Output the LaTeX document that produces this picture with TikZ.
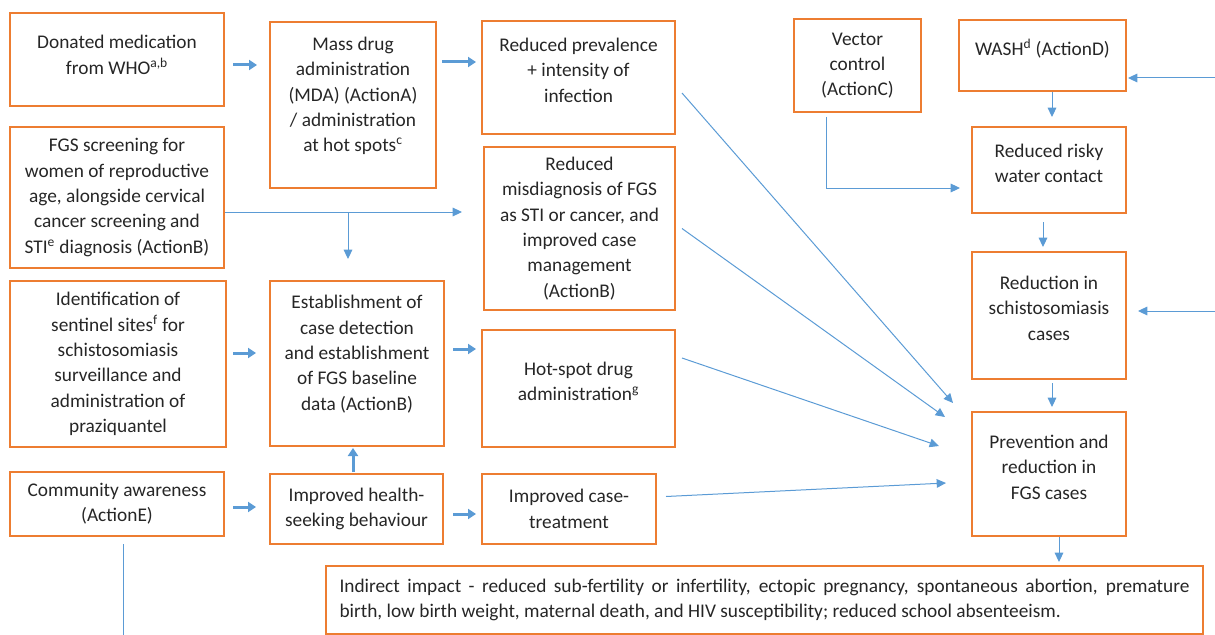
\documentclass[tikz,border=0pt]{standalone}
\usepackage{fontspec}
\setmainfont{Carlito}
\usetikzlibrary{arrows.meta,calc}
\definecolor{boxorange}{RGB}{237,125,49}
\definecolor{arrowblue}{RGB}{91,155,213}
\definecolor{textgrey}{RGB}{38,38,38}
\newcommand{\lift}[1]{\rule[-#1]{0pt}{0pt}}

\begin{document}
\begin{tikzpicture}[x=0.75pt,y=0.75pt,yscale=-1,xscale=1,
  box/.style 2 args={draw=boxorange,line width=1.5pt,outer sep=0pt,inner sep=2pt,anchor=north west,align=center,text=textgrey,font=\fontsize{14.5}{19}\selectfont,minimum width=#1*0.75pt,minimum height=#2*0.75pt},
  link/.style={draw=arrowblue,line width=0.75pt,-{Triangle[length=7pt,width=6.5pt]}},
  fat/.style={draw=arrowblue,line width=2.25pt,-{Triangle[length=6pt,width=7.5pt]}}]
\useasboundingbox (0,0) rectangle (1215,635);

% Text Node
\node[box={214}{93}] (don) at (10,13) {Donated medication\\from WHO\textsuperscript{a,b}\lift{7pt}};
% Text Node
\node[box={166}{166}] (mda) at (270,22) {Mass drug\\administration\\(MDA) (ActionA)\\/ administration\\at hot spots\textsuperscript{c}\lift{16pt}};
% Text Node
\node[box={193}{113}] (prev) at (482,21) {Reduced prevalence\\+ intensity of\\infection\lift{11pt}};
% Text Node
\node[box={127}{93}] (vec) at (794,19) {Vector\\control\\(ActionC)};
% Text Node
\node[box={167}{71}] (wash) at (959,20) {WASH\textsuperscript{d} (ActionD)\lift{13pt}};
% Text Node
\node[box={154}{86}] (risky) at (972,127) {Reduced risky\\water contact\lift{10.5pt}};
% Text Node
\node[box={154}{127}] (redu) at (972,252) {Reduction in\\schistosomiasis\\cases\lift{11pt}};
% Text Node
\node[box={154}{124}] (prevn) at (972,412) {Prevention and\\reduction in\\FGS cases\lift{10.5pt}};
% Text Node
\node[box={214}{141}] (fgs) at (10,127) {FGS screening for\\women of reproductive\\age, alongside cervical\\cancer screening and\\STI\textsuperscript{e} diagnosis (ActionB)};
% Text Node
\node[box={191}{163}] (misd) at (484,147) {Reduced\\misdiagnosis of FGS\\as STI or cancer, and\\improved case\\management\\(ActionB)};
% Text Node
\node[box={216}{166}] (ident) at (10,281) {Identification of\\sentinel sites\textsuperscript{f} for\\schistosomiasis\\surveillance and\\administration of\\praziquantel};
% Text Node
\node[box={174}{165}] (estab) at (270,281) {Establishment of\\case detection\\and establishment\\of FGS baseline\\data (ActionB)\lift{16pt}};
% Text Node
\node[box={193}{117}] (hot) at (482,330) {Hot-spot drug\\administration\textsuperscript{g}\lift{11pt}};
% Text Node
\node[box={214}{64}] (comm) at (10,472) {Community awareness\\(ActionE)};
% Text Node
\node[box={173}{70}] (health) at (270,474) {Improved health-\\seeking behaviour};
% Text Node
\node[box={174}{70}] (case) at (482,474) {Improved case-\\treatment};
% Text Node
\node[box={877}{68},align=justify,text width=637.5pt] (ind) at (326,566) {Indirect impact - reduced sub-fertility or infertility, ectopic pregnancy, spontaneous abortion, premature\linebreak birth, low birth weight, maternal death, and HIV susceptibility; reduced school absenteeism.};

\coordinate (wash-in) at (1215,78);
\coordinate (redu-in) at (1215,311);
\coordinate (comm-out) at (123,635);

%Short arrows
\draw[fat] ($(don.east)+(9,5.5)$) -- ($(mda.west |- don.east)+(-13,5.5)$);
\draw[fat] ($(mda.east |- prev.west)+(6,-15.5)$) -- ($(prev.west)+(-6,-15.5)$);
\draw[fat] ($(ident.east)+(7,-11)$) -- ($(estab.west)+(-14,-10.5)$);
\draw[fat] ($(estab.east)+(9,-14.5)$) -- ($(hot.west)+(-6,-39.5)$);
\draw[fat] ($(comm.east)+(9,3)$) -- ($(health.west)+(-14,-2)$);
\draw[fat] ($(health.east)+(10,5)$) -- ($(case.west)+(-6,5)$);
\draw[fat] ($(health.north)+(-3.5,-2)$) -- ($(estab.south)+(-4,2)$);

%Straight Lines
\draw[link] ($(fgs.east)+(1,14.5)$) -- ($(misd.west |- fgs.east)+(-22,14.5)$);
\draw[link] ($(estab.north |- fgs.east)+(-9,14.5)$) -- ($(estab.north)+(-9,-22)$);
\draw[link] ($(prev.east)+(7,15.5)$) -- ($(prevn.north west)+(-19,-9)$);
\draw[link] ($(misd.east)+(7,0)$) -- ($(prevn.north west)+(-27,5)$);
\draw[link] ($(hot.east)+(7,-30.5)$) -- ($(prevn.west)+(-33,-28)$);
\draw[link] ($(case.east)+(10,-12.5)$) -- ($(prevn.west)+(-26,9)$);
\draw[link] ($(vec.south)+(-31.5,5)$) |- ($(risky.west)+(-12,18)$);
\draw[link] ($(wash.south)+(9.5,1)$) -- ($(risky.north)+(3,-10)$);
\draw[link] ($(risky.south)+(-6,9)$) -- ($(redu.north)+(-6,-5)$);
\draw[link] ($(redu.south)+(3,4)$) -- ($(prevn.north)+(3,-5)$);
\draw[link] ($(prevn.south)+(10,1)$) -- ($(prevn.south |- ind.north)+(10,-4)$);
\draw[link] (wash-in) -- ($(wash-in -| wash.east)+(2,0)$);
\draw[link] (redu-in) -- ($(redu-in -| redu.east)+(12,0)$);
\draw[draw=arrowblue,line width=0.75pt] ($(comm.south)+(6,8)$) -- (comm-out);

\end{tikzpicture}
\end{document}
